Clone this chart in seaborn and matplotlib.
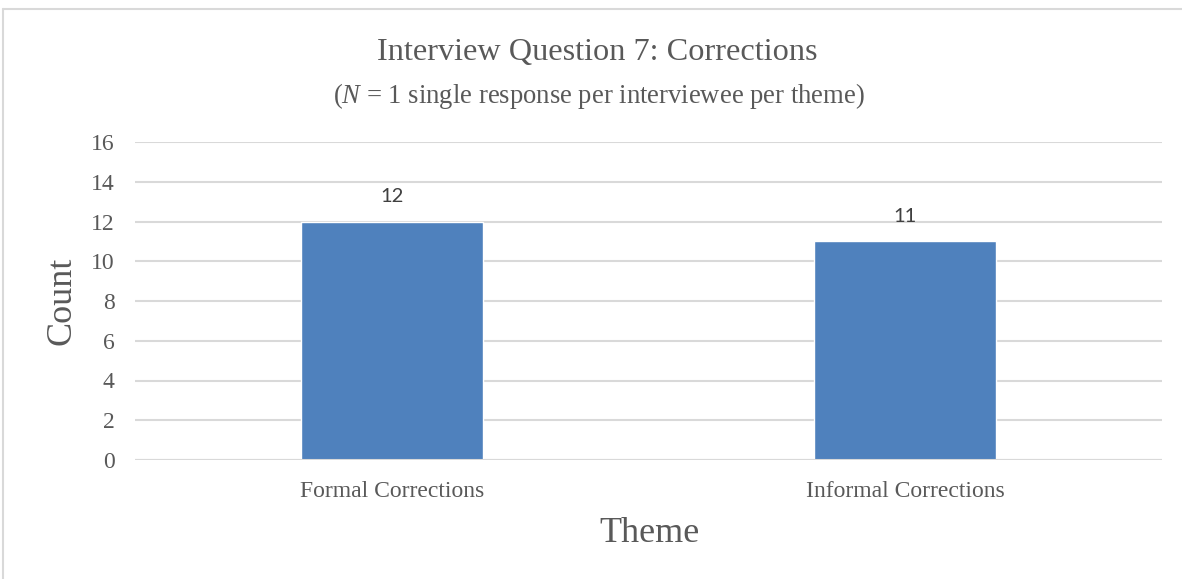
import matplotlib
matplotlib.use("Agg")
import matplotlib.pyplot as plt
from matplotlib.lines import Line2D
import seaborn as sns
import pandas as pd

# Chart data
themes = ["Formal Corrections", "Informal Corrections"]
counts = [12, 11]
y_ticks = [0, 2, 4, 6, 8, 10, 12, 14, 16]

title = "Interview Question 7: Corrections"
subtitle = "($\\mathit{N}$ = 1 single response per interviewee per theme)"
x_label = "Theme"
y_label = "Count"

TEXT = "#595959"
GRID = "#d9d9d9"
BAR = "#4f81bd"

sns.set_theme(style="white")
plt.rcParams["font.family"] = ["Liberation Serif", "DejaVu Serif"]
plt.rcParams["mathtext.fontset"] = "custom"
plt.rcParams["mathtext.rm"] = "Liberation Serif"
plt.rcParams["mathtext.it"] = "Liberation Serif:italic"

W, H = 1182, 579
fig = plt.figure(figsize=(W / 100, H / 100), dpi=100)
fig.patch.set_facecolor("white")
ax = fig.add_axes([135 / W, 1 - 460 / H, (1162 - 135) / W, (460 - 142) / H])

df = pd.DataFrame({"theme": themes, "count": counts})
sns.barplot(data=df, x="theme", y="count", color=BAR, width=0.355,
            saturation=1, ax=ax, zorder=3)

ax.set_xlim(-0.5, len(themes) - 0.5)
ax.set_ylim(0, 16)
ax.set_yticks(y_ticks)
ax.set_yticklabels([str(t) for t in y_ticks])
ax.yaxis.grid(True, color=GRID, linewidth=1.5, zorder=0)
ax.set_axisbelow(True)
for s in ax.spines.values():
    s.set_visible(False)
ax.axhline(0, color=GRID, linewidth=1.5, zorder=4)

ax.tick_params(axis="both", length=0, colors=TEXT, labelsize=17)
ax.tick_params(axis="y", pad=14.5)
ax.tick_params(axis="x", pad=15)
for lbl in ax.get_xticklabels() + ax.get_yticklabels():
    lbl.set_color(TEXT)

ax.set_xlabel("")
ax.set_ylabel("")

# value labels above bars
for i, v in enumerate(counts):
    ax.annotate(str(v), (i, v), xytext=(0, 18), textcoords="offset points",
                ha="center", va="center", fontsize=14.5, color="#404040",
                family=["Lato", "DejaVu Sans"])

fig.text(597.5 / W, 1 - 60 / H, title, ha="center", va="baseline",
         fontsize=23.2, color=TEXT)
fig.text(599 / W, 1 - 103 / H, subtitle, ha="center", va="baseline",
         fontsize=19.2, color=TEXT)
fig.text(649 / W, 1 - 533 / H, x_label, ha="center", va="center",
         fontsize=26, color=TEXT)
fig.text(62 / W, 1 - 301 / H, y_label, ha="center", va="center",
         fontsize=26, color=TEXT, rotation=90)

# chart frame edges
fig.add_artist(Line2D([3 / W, 1], [1 - 9 / H, 1 - 9 / H], color=GRID, linewidth=1.5))
fig.add_artist(Line2D([3 / W, 3 / W], [0, 1 - 9 / H], color=GRID, linewidth=1.5))

fig.savefig("out.png", dpi=100, facecolor="white")
